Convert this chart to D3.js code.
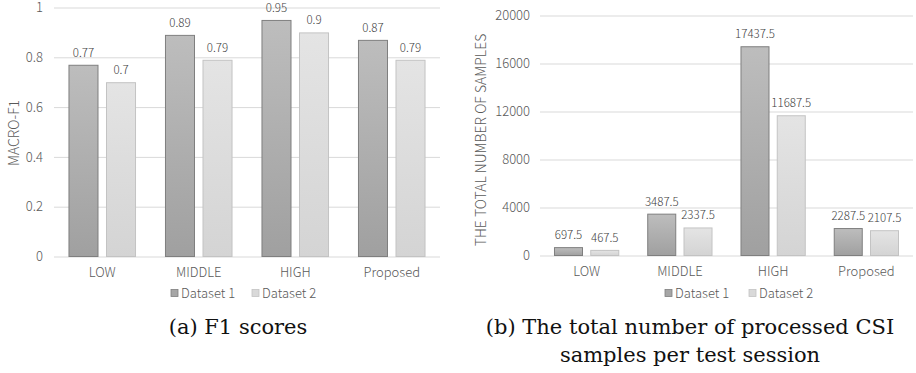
<!DOCTYPE html>
<html><head><meta charset="utf-8">
<script src="https://cdn.jsdelivr.net/npm/d3@7"></script>
<style>
body{margin:0;background:#fff;}
svg{display:block;}
</style></head>
<body><svg id="c" width="916" height="373"></svg>
<script>
const categories = ["LOW", "MIDDLE", "HIGH", "Proposed"];
const seriesNames = ["Dataset 1", "Dataset 2"];
const f1Dataset1 = [0.77, 0.89, 0.95, 0.87];
const f1Dataset2 = [0.70, 0.79, 0.90, 0.79];
const samplesDataset1 = [697.5, 3487.5, 17437.5, 2287.5];
const samplesDataset2 = [467.5, 2337.5, 11687.5, 2107.5];
const f1Ticks = [0, 0.2, 0.4, 0.6, 0.8, 1];
const samplesTicks = [0, 4000, 8000, 12000, 16000, 20000];

const svg = d3.select("#c");
const defs = svg.append("defs");
const g1 = defs.append("linearGradient").attr("id","gd1").attr("x1",0).attr("y1",0).attr("x2",0).attr("y2",1);
g1.append("stop").attr("offset","0%").attr("stop-color","#bdbdbd");
g1.append("stop").attr("offset","100%").attr("stop-color","#a0a0a0");
const g2 = defs.append("linearGradient").attr("id","gd2").attr("x1",0).attr("y1",0).attr("x2",0).attr("y2",1);
g2.append("stop").attr("offset","0%").attr("stop-color","#e4e4e4");
g2.append("stop").attr("offset","100%").attr("stop-color","#d4d4d4");
const fills = ["url(#gd1)","url(#gd2)"];
const strokes = ["#7f7f7f","#c3c3c3"];
const legendFills = ["#a6a6a6","#d9d9d9"];
const sans = "'Noto Sans CJK JP','Roboto',sans-serif";
const W = 300;

function panel(o){
  const g = svg.append("g");
  const x0 = d3.scaleBand().domain(categories).range([o.left,o.right]).paddingInner(0.3).paddingOuter(0.15);
  const x1 = d3.scaleBand().domain(seriesNames).range([0,x0.bandwidth()]).paddingInner(0.2);
  const y = d3.scaleLinear().domain([0,o.ticks[o.ticks.length-1]]).range([o.bottom,o.top]);
  g.append("g").selectAll("line").data(o.ticks).join("line")
    .attr("x1",o.left).attr("x2",o.right)
    .attr("y1",d=>y(d)+0.5).attr("y2",d=>y(d)+0.5)
    .attr("stroke","#d9d9d9").attr("stroke-width",1);
  const ya = d3.axisLeft(y).tickValues(o.ticks).tickSize(0).tickPadding(0).tickFormat(d3.format(o.fmt));
  const yg = g.append("g").attr("transform",`translate(${o.tickX},0)`).call(ya);
  yg.select(".domain").remove();
  yg.selectAll("text").attr("fill","#595959").style("font-family",sans).style("font-weight",W).style("font-size","13px").attr("dy","0.33em");
  const xa = d3.axisBottom(x0).tickSize(0).tickPadding(0);
  const xg = g.append("g").attr("transform",`translate(0,${o.bottom+11})`).call(xa);
  xg.select(".domain").remove();
  xg.selectAll("text").attr("fill","#595959").style("font-family",sans).style("font-weight",W).style("font-size","13px").attr("dy","0.71em");
  const data = categories.map((c,i)=>({c, vals:[o.s1[i],o.s2[i]]}));
  const grp = g.append("g").selectAll("g").data(data).join("g").attr("transform",d=>`translate(${x0(d.c)},0)`);
  grp.selectAll("rect").data(d=>d.vals.map((v,j)=>({v,j,name:seriesNames[j]}))).join("rect")
    .attr("x",d=>x1(d.name)+0.5).attr("width",x1.bandwidth()-1)
    .attr("y",d=>y(d.v)+0.5).attr("height",d=>o.bottom-y(d.v)-0.5)
    .attr("fill",d=>fills[d.j]).attr("stroke",d=>strokes[d.j]).attr("stroke-width",1);
  grp.selectAll("text").data(d=>d.vals.map((v,j)=>({v,j,name:seriesNames[j]}))).join("text")
    .attr("x",d=>x1(d.name)+x1.bandwidth()/2).attr("y",d=>y(d.v)-8)
    .attr("text-anchor","middle").attr("fill","#404040")
    .style("font-family",sans).style("font-weight",W).style("font-size","11.5px")
    .text(d=>d.v);
  g.append("text").attr("transform",`translate(${o.titleX},${o.titleY}) rotate(-90)`)
    .attr("text-anchor","middle").attr("dy","0.35em").attr("fill","#595959")
    .style("font-family",sans).style("font-weight",W).style("font-size","14px").text(o.title);
  const lg = g.append("g");
  seriesNames.forEach((n,j)=>{
    lg.append("rect").attr("x",o.legX[j]).attr("y",289.5).attr("width",7).attr("height",7)
      .attr("fill",legendFills[j]).attr("stroke",strokes[j]).attr("stroke-width",0.8);
    lg.append("text").attr("x",o.legX[j]+10).attr("y",293).attr("dy","0.35em")
      .attr("fill","#595959").style("font-family",sans).style("font-weight",W).style("font-size","13px").text(n);
  });
  o.caption.forEach((t,k)=>{
    g.append("text").attr("x",o.capX).attr("y",334+k*28).attr("text-anchor","middle")
      .attr("fill","#111").style("font-family","'DejaVu Serif',serif").style("font-size","21px").text(t);
  });
}

panel({left:54,right:440,top:7.5,bottom:256.5,ticks:f1Ticks,fmt:"",s1:f1Dataset1,s2:f1Dataset2,
  tickX:43,title:"MACRO-F1",titleX:14,titleY:133,legX:[171,252],capX:238,caption:["(a) F1 scores"]});
panel({left:540,right:913,top:15.5,bottom:255.5,ticks:samplesTicks,fmt:"d",s1:samplesDataset1,s2:samplesDataset2,
  tickX:530,title:"THE TOTAL NUMBER OF SAMPLES",titleX:481,titleY:140,legX:[665,749],capX:690,
  caption:["(b) The total number of processed CSI","samples per test session"]});
</script></body></html>
